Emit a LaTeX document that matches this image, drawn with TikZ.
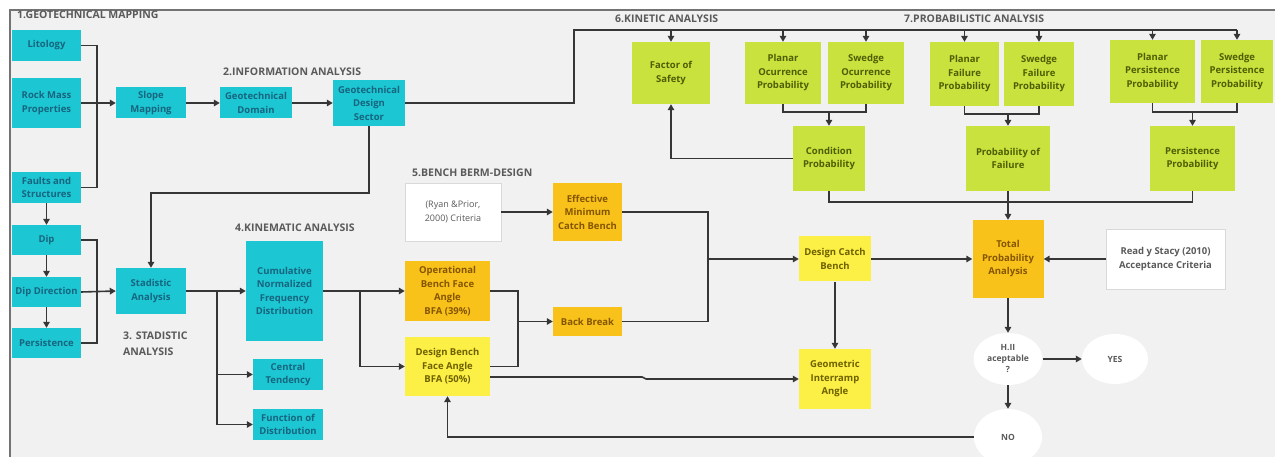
\documentclass[tikz,border=0pt]{standalone}
\usepackage{fontspec}
\setmainfont{Open Sans}
\usetikzlibrary{arrows.meta,shapes.geometric,calc}

\definecolor{bgpaper}{HTML}{F1F1F1}
\definecolor{cyanfill}{HTML}{1CC6D3}
\definecolor{cyantext}{HTML}{17657E}
\definecolor{limefill}{HTML}{C9E23D}
\definecolor{limetext}{HTML}{4F5E05}
\definecolor{amberfill}{HTML}{F8C21A}
\definecolor{ambertext}{HTML}{855500}
\definecolor{lemonfill}{HTML}{FCEF45}
\definecolor{lemontext}{HTML}{6E6100}
\definecolor{wirecol}{HTML}{363636}
\definecolor{labelgray}{HTML}{5A5A5A}

\begin{document}
\begin{tikzpicture}[
  x=1pt, y=-1pt,
  box/.style={rectangle, inner sep=1pt, align=center, font=\fontsize{9.5}{13.5}\selectfont\bfseries},
  wh/.style 2 args={minimum width=#1, minimum height=#2},
  geobox/.style={box, fill=cyanfill, text=cyantext},
  probbox/.style={box, fill=limefill, text=limetext},
  keybox/.style={box, fill=amberfill, text=ambertext},
  designbox/.style={box, fill=lemonfill, text=lemontext},
  sourcebox/.style={box, fill=white, draw=black!15, text=labelgray},
  decision/.style={ellipse, fill=white, inner sep=0pt, align=center, text=labelgray, font=\fontsize{8.5}{11}\selectfont\bfseries},
  section/.style={anchor=west, inner sep=0pt, align=left, text=labelgray, font=\fontsize{10.5}{16}\selectfont\bfseries},
  wire/.style={draw=wirecol, line width=1.6pt, line join=miter},
  flow/.style={wire, -{Triangle[length=6pt,width=6.5pt]}}
]
\useasboundingbox (0,0) rectangle (1275,457);
\fill[white] (0,0) rectangle (1275,457);
\fill[bgpaper] (10,10) rectangle (1275,457);
\draw[black!55, line width=1.4pt] (10,457) -- (10,10) -- (1275,10);

\node[section] (geomap) at (17,15) {1.GEOTECHNICAL MAPPING};
\node[section] (infolabel) at (223,72) {2.INFORMATION ANALYSIS};
\node[section] (stadlabel) at (123,344) {3. STADISTIC\\ANALYSIS};
\node[section] (kinemlabel) at (235,228) {4.KINEMATIC ANALYSIS};
\node[section] (berm) at (412,173) {5.BENCH BERM-DESIGN};
\node[section] (kinetic) at (615,19) {6.KINETIC ANALYSIS};
\node[section] (problabel) at (904,19) {7.PROBABILISTIC ANALYSIS};

\node[geobox, wh={69}{31}] (lit) at (46.5,45.5) {Litology};
\node[geobox, wh={69}{50}] (rock) at (46.5,103) {Rock Mass\\Properties};
\node[geobox, wh={69}{31}] (faults) at (46.5,187.5) {Faults and\\Structures};
\node[geobox, wh={69}{30}] (dip) at (46.5,240) {Dip};
\node[geobox, wh={69}{30}] (dipdir) at (46.5,292) {Dip Direction};
\node[geobox, wh={69}{30}] (persist) at (46.5,343) {Persistence};
\node[geobox, wh={70}{31}] (slope) at (151,103) {Slope\\Mapping};
\node[geobox, wh={72}{31}] (domain) at (256,103) {Geotechnical\\Domain};
\node[geobox, wh={72}{46}] (sector) at (369,103) {Geotechnical\\Design\\Sector};
\node[geobox, wh={70}{46}] (stad) at (151,291) {Stadistic\\Analysis};
\node[geobox, wh={77}{100}] (cumul) at (284.5,291) {Cumulative\\Normalized\\Frequency\\Distribution};
\node[geobox, wh={70}{31}] (central) at (288,374.5) {Central\\Tendency};
\node[geobox, wh={70}{31}] (function) at (288,424.5) {Function of\\Distribution};

\node[sourcebox, font=\fontsize{9}{13.5}\selectfont, wh={96}{58}] (ryan) at (453,212) {(Ryan \&Prior,\\2000) Criteria};
\node[keybox, wh={69}{58}] (effective) at (587.5,212) {Effective\\Minimum\\Catch Bench};
\node[keybox, wh={85}{59}] (operational) at (447.5,291) {Operational\\Bench Face\\Angle\\BFA (39\%)};
\node[designbox, wh={85}{59}] (designbfa) at (447.5,366.5) {Design Bench\\Face Angle\\BFA (50\%)};
\node[keybox, wh={69}{29}] (backbreak) at (587.5,321.5) {Back Break};
\node[designbox, wh={72}{45}] (catch) at (835,259) {Design Catch\\Bench};
\node[designbox, wh={72}{60}] (interramp) at (835,379) {Geometric\\Interramp\\Angle};

\node[probbox, wh={78}{62}] (safety) at (671,73) {Factor of\\Safety};
\node[probbox, wh={76}{62}] (planaroc) at (783,73) {Planar\\Ocurrence\\Probability};
\node[probbox, wh={76}{62}] (swedgeoc) at (866,73) {Swedge\\Ocurrence\\Probability};
\node[probbox, wh={72}{65}] (condition) at (829,158.5) {Condition\\Probability};
\node[probbox, wh={69}{64}] (planarfail) at (964.5,74) {Planar\\Failure\\Probability};
\node[probbox, wh={70}{64}] (swedgefail) at (1039,74) {Swedge\\Failure\\Probability};
\node[probbox, wh={84}{65}] (failure) at (1008,158.5) {Probability of\\Failure};
\node[probbox, wh={85}{63}] (planarpers) at (1152.5,71.5) {Planar\\Persistence\\Probability};
\node[probbox, wh={72}{63}] (swedgepers) at (1237,71.5) {Swedge\\Persistence\\Probability};
\node[probbox, wh={85}{65}] (perspro) at (1192.5,158.5) {Persistence\\Probability};

\node[keybox, wh={71}{78}] (total) at (1008,259) {Total\\Probability\\Analysis};
\node[sourcebox, wh={119}{60}] (read) at (1165.5,259) {Read y Stacy (2010)\\Acceptance Criteria};
\node[decision, minimum width=69, minimum height=52] (accept) at (1008,359) {H.II\\aceptable\\?};
\node[decision, minimum width=66, minimum height=50] (yes) at (1115,359) {YES};
\node[decision, minimum width=68, minimum height=56] (no) at (1008,437) {NO};

\coordinate (mapbus) at (97,103);
\draw[wire] (lit.east) -| (mapbus) |- (faults.east);
\draw[flow] (rock.east) -- (slope.west);
\draw[flow] (slope) -- (domain);
\draw[flow] (domain) -- (sector);
\coordinate (sectorturn) at (369,193);
\draw[flow] (sector.south) -- (sectorturn) -| (stad.north);

\foreach \a/\b in {faults/dip, dip/dipdir, dipdir/persist}
  \draw[flow] (\a) -- (\b);
\coordinate (dipbus) at (97,292);
\draw[wire] (dip.east) -| (dipbus) |- (persist.east);
\draw[flow] (dipdir.east) -- (stad.west);
\draw[flow] (stad.east) -- (cumul.west);
\coordinate (stadbus) at (217,291);
\draw[flow] (stadbus) |- (central.west);
\draw[flow] (stadbus) |- (function.west);

\draw[flow] (cumul.east) -- (operational.west);
\coordinate (cumulbus) at (360,291);
\draw[flow] (cumulbus) |- (designbfa.west);
\draw[flow] (ryan.east) -- (effective.west);
\coordinate (breakbus) at (518,321.5);
\draw[wire] (operational.east) -| (breakbus) |- (designbfa.east);
\draw[flow] (breakbus) -- (backbreak.west);
\coordinate (catchbus) at (708,259);
\draw[wire] (effective.east) -| (catchbus) |- (backbreak.east);
\draw[flow] (catchbus) -- (catch.west);
\draw[flow] ($(designbfa.east)+(0,10.5)$) -- ++(152,0) -- ++(4,2) -- (interramp.west);
\draw[flow] (catch) -- (interramp);
\draw[flow] (catch) -- (total);
\draw[flow] (read) -- (total);
\draw[flow] (total) -- (accept);
\draw[flow] (accept) -- (yes);
\draw[flow] (accept) -- (no);
\draw[flow] (no.west) -| (designbfa.south);

\coordinate (kinbus) at (574,30);
\draw[wire] (sector.east) -| (kinbus) -- (swedgepers.north |- kinbus);
\foreach \n in {safety, planaroc, swedgeoc, planarfail, swedgefail, planarpers, swedgepers}
  \draw[flow] (\n.north |- kinbus) -- (\n.north);

\coordinate (ocjoin) at (829,112);
\draw[wire] (planaroc.south) |- (ocjoin) -| (swedgeoc.south);
\draw[flow] (ocjoin) -- (condition.north);
\coordinate (failjoin) at (1008,114);
\draw[wire] (planarfail.south) |- (failjoin) -| (swedgefail.south);
\draw[flow] (failjoin) -- (failure.north);
\coordinate (persjoin) at (1192.5,112);
\draw[wire] (planarpers.south) |- (persjoin) -| (swedgepers.south);
\draw[flow] (persjoin) -- (perspro.north);
\draw[flow] (condition.west) -| (safety.south);
\coordinate (probbus) at (1008,202);
\draw[wire] (condition.south) |- (probbus) -| (perspro.south);
\draw[flow] (failure.south) -- (total.north);
\end{tikzpicture}
\end{document}
